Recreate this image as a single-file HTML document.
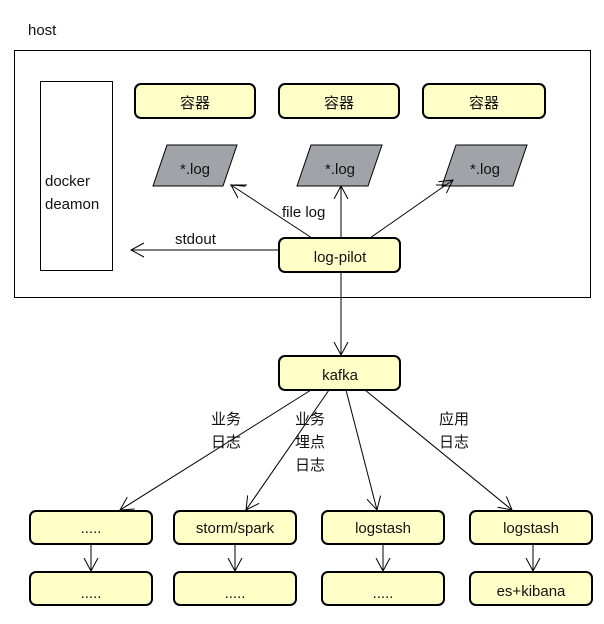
<!DOCTYPE html>
<html><head><meta charset="utf-8"><style>
body{margin:0;background:#fff}
svg text{font-family:"Liberation Sans","Noto Sans CJK SC",sans-serif;font-size:15px;fill:#111}
</style></head><body>
<svg width="604" height="619" xmlns="http://www.w3.org/2000/svg">
<defs><marker id="a" markerWidth="14" markerHeight="16" refX="13" refY="8" orient="auto" markerUnits="userSpaceOnUse"><path d="M0,1 L13,8 L0,15" fill="none" stroke="#000" stroke-width="1"/></marker></defs>
<rect width="604" height="619" fill="#fff"/>
<text x="28" y="35">host</text>
<rect x="14.5" y="50.5" width="576" height="247" fill="#fff" stroke="#000"/>
<rect x="40.5" y="81.5" width="72" height="189" fill="#fff" stroke="#000"/>
<text x="45" y="186">docker</text><text x="45" y="209">deamon</text>
<g fill="#ffffc8" stroke="#000" stroke-width="2">
<rect x="135" y="84" width="120" height="34" rx="6"/>
<rect x="279" y="84" width="120" height="34" rx="6"/>
<rect x="423" y="84" width="122" height="34" rx="6"/>
<rect x="279" y="238" width="121" height="34" rx="6"/>
<rect x="279" y="356" width="121" height="34" rx="6"/>
<rect x="30" y="511" width="122" height="33" rx="6"/>
<rect x="174" y="511" width="122" height="33" rx="6"/>
<rect x="322" y="511" width="122" height="33" rx="6"/>
<rect x="470" y="511" width="122" height="33" rx="6"/>
<rect x="30" y="572" width="122" height="33" rx="6"/>
<rect x="174" y="572" width="122" height="33" rx="6"/>
<rect x="322" y="572" width="122" height="33" rx="6"/>
<rect x="470" y="572" width="122" height="33" rx="6"/>
</g>
<g fill="#a0a4a8" stroke="#000">
<polygon points="167,145 237,145 223,186 153,186"/>
<polygon points="311,145 382,145 368,186 297,186"/>
<polygon points="456,145 527,145 513,186 442,186"/>
</g>
<g text-anchor="middle">
<text x="195" y="108">容器</text><text x="339" y="108">容器</text><text x="484" y="108">容器</text>
<text x="195" y="174">*.log</text><text x="340" y="174">*.log</text><text x="485" y="174">*.log</text>
<text x="340" y="262">log-pilot</text><text x="340" y="380">kafka</text>
<text x="91" y="533">.....</text><text x="235" y="533">storm/spark</text><text x="383" y="533">logstash</text><text x="531" y="533">logstash</text>
<text x="91" y="598">.....</text><text x="235" y="598">.....</text><text x="383" y="598">.....</text><text x="531" y="596">es+kibana</text>
</g>
<g stroke="#000" fill="none" marker-end="url(#a)">
<line x1="312" y1="238" x2="231" y2="185"/>
<line x1="341" y1="238" x2="341" y2="186"/>
<line x1="370" y1="238" x2="453" y2="180"/>
<line x1="278" y1="250" x2="131" y2="250"/>
<line x1="341" y1="272" x2="341" y2="355"/>
<line x1="311" y1="390" x2="120" y2="510"/>
<line x1="329" y1="390" x2="246" y2="510"/>
<line x1="346" y1="390" x2="377" y2="510"/>
<line x1="365" y1="390" x2="512" y2="510"/>
<line x1="91" y1="544" x2="91" y2="571"/>
<line x1="235" y1="544" x2="235" y2="571"/>
<line x1="383" y1="544" x2="383" y2="571"/>
<line x1="533" y1="544" x2="533" y2="571"/>
</g>
<line x1="230" y1="185" x2="247" y2="185" stroke="#000"/>
<line x1="436" y1="185" x2="446" y2="185" stroke="#000"/>
<text x="282" y="217">file log</text>
<text x="175" y="244">stdout</text>
<g fill="#333">
<text x="211" y="424">业务</text><text x="211" y="447">日志</text>
<text x="295" y="424">业务</text><text x="295" y="447">埋点</text><text x="295" y="470">日志</text>
<text x="439" y="424">应用</text><text x="439" y="447">日志</text>
</g>
</svg>
</body></html>
